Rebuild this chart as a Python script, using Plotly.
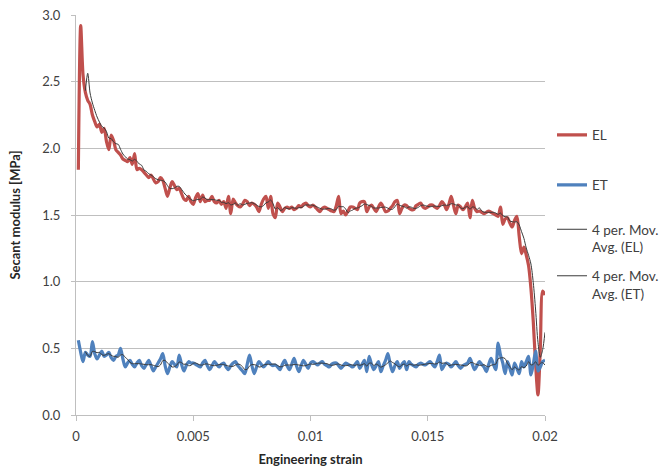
import plotly.graph_objects as go
import pandas as pd

# Engineering strain grid (0.0001 .. 0.02)
strain = [round(0.0001 * i, 4) for i in range(1, 201)]

EL = [
    1.84, 2.92, 2.55, 2.42, 2.36, 2.33, 2.25, 2.20, 2.16, 2.18,
    2.12, 2.15, 2.05, 1.99, 2.10, 2.06, 1.99, 1.97, 1.95, 1.92,
    1.91, 1.90, 1.93, 1.88, 1.96, 1.84, 1.85, 1.84, 1.82, 1.80,
    1.78, 1.80, 1.77, 1.74, 1.75, 1.78, 1.76, 1.70, 1.64, 1.70,
    1.75, 1.72, 1.69, 1.70, 1.66, 1.62, 1.61, 1.64, 1.60, 1.58,
    1.63, 1.66, 1.60, 1.65, 1.60, 1.61, 1.61, 1.64, 1.60, 1.59,
    1.61, 1.58, 1.60, 1.55, 1.64, 1.51, 1.62, 1.59, 1.57, 1.56,
    1.58, 1.61, 1.60, 1.57, 1.59, 1.58, 1.56, 1.525, 1.58, 1.62,
    1.64, 1.55, 1.64, 1.51, 1.48, 1.59, 1.56, 1.525, 1.55, 1.56,
    1.55, 1.56, 1.54, 1.55, 1.57, 1.56, 1.58, 1.59, 1.57, 1.56,
    1.575, 1.56, 1.54, 1.525, 1.55, 1.56, 1.55, 1.54, 1.53, 1.525,
    1.57, 1.64, 1.51, 1.53, 1.50, 1.53, 1.56, 1.56, 1.55, 1.54,
    1.59, 1.60, 1.60, 1.525, 1.56, 1.575, 1.55, 1.525, 1.56, 1.59,
    1.56, 1.525, 1.53, 1.55, 1.57, 1.60, 1.61, 1.51, 1.55, 1.575,
    1.57, 1.55, 1.54, 1.54, 1.57, 1.58, 1.59, 1.56, 1.55, 1.56,
    1.575, 1.575, 1.56, 1.55, 1.57, 1.60, 1.58, 1.54, 1.58, 1.64,
    1.57, 1.51, 1.575, 1.56, 1.54, 1.56, 1.59, 1.48, 1.61, 1.55,
    1.525, 1.53, 1.52, 1.51, 1.52, 1.53, 1.52, 1.51, 1.50, 1.49,
    1.56, 1.43, 1.47, 1.48, 1.44, 1.41, 1.46, 1.49, 1.34, 1.21,
    1.26, 1.20, 1.12, 0.95, 0.70, 0.38, 0.15, 0.50, 0.93, 0.90,
]

ET = [
    0.56, 0.47, 0.40, 0.47, 0.45, 0.44, 0.55, 0.46, 0.42, 0.45,
    0.48, 0.44, 0.45, 0.47, 0.43, 0.41, 0.44, 0.45, 0.50, 0.42,
    0.36, 0.39, 0.41, 0.38, 0.36, 0.39, 0.41, 0.37, 0.35, 0.38,
    0.41, 0.37, 0.33, 0.36, 0.39, 0.42, 0.46, 0.37, 0.31, 0.36,
    0.40, 0.38, 0.36, 0.45, 0.38, 0.33, 0.37, 0.40, 0.39, 0.39,
    0.38, 0.37, 0.36, 0.39, 0.41, 0.37, 0.34, 0.37, 0.40, 0.38,
    0.36, 0.38, 0.39, 0.36, 0.34, 0.37, 0.39, 0.40, 0.37, 0.35,
    0.33, 0.31, 0.38, 0.45, 0.37, 0.31, 0.36, 0.40, 0.38, 0.36,
    0.38, 0.40, 0.38, 0.37, 0.375, 0.36, 0.34, 0.38, 0.41, 0.37,
    0.34, 0.38, 0.425, 0.37, 0.325, 0.37, 0.41, 0.38, 0.35, 0.39,
    0.40, 0.39, 0.375, 0.39, 0.40, 0.38, 0.37, 0.36, 0.38, 0.39,
    0.39, 0.37, 0.35, 0.37, 0.39, 0.38, 0.37, 0.36, 0.38, 0.40,
    0.35, 0.38, 0.41, 0.325, 0.44, 0.38, 0.34, 0.37, 0.40, 0.325,
    0.37, 0.41, 0.46, 0.38, 0.325, 0.37, 0.40, 0.35, 0.38, 0.40,
    0.34, 0.40, 0.38, 0.37, 0.36, 0.38, 0.39, 0.38, 0.375, 0.39,
    0.40, 0.38, 0.36, 0.40, 0.45, 0.34, 0.37, 0.39, 0.38, 0.36,
    0.38, 0.40, 0.37, 0.35, 0.37, 0.38, 0.39, 0.425, 0.38, 0.34,
    0.37, 0.40, 0.38, 0.36, 0.325, 0.38, 0.425, 0.38, 0.34, 0.54,
    0.45, 0.39, 0.31, 0.40, 0.35, 0.30, 0.39, 0.35, 0.31, 0.40,
    0.36, 0.40, 0.44, 0.30, 0.38, 0.48, 0.33, 0.36, 0.40, 0.41,
]

x_tickvals = [0, 0.005, 0.01, 0.015, 0.02]
x_ticktext = ["0", "0.005", "0.01", "0.015", "0.02"]
y_tickvals = [0, 0.5, 1.0, 1.5, 2.0, 2.5, 3.0]
y_ticktext = ["0.0", "0.5", "1.0", "1.5", "2.0", "2.5", "3.0"]

df = pd.DataFrame({"x": strain, "EL": EL, "ET": ET})
df["EL_ma"] = df["EL"].rolling(4).mean()
df["ET_ma"] = df["ET"].rolling(4).mean()
ma = df.dropna()

FONT = "Lato, Carlito, Calibri, sans-serif"
RED = "#c0504d"
BLUE = "#4f81bd"
DARK = "#3a3a3a"
TXT = "#404040"

fig = go.Figure()
fig.add_trace(go.Scatter(x=df["x"], y=df["EL"], mode="lines", name="EL",
                         line=dict(color=RED, width=3.2, shape="spline", smoothing=0.8),
                         legend="legend"))
fig.add_trace(go.Scatter(x=df["x"], y=df["ET"], mode="lines", name="ET",
                         line=dict(color=BLUE, width=3.2, shape="spline", smoothing=0.8),
                         legend="legend2"))
fig.add_trace(go.Scatter(x=ma["x"], y=ma["EL_ma"], mode="lines",
                         name="4 per. Mov.<br>Avg. (EL)",
                         line=dict(color=DARK, width=1, shape="spline", smoothing=0.8),
                         legend="legend3"))
fig.add_trace(go.Scatter(x=ma["x"], y=ma["ET_ma"], mode="lines",
                         name="4 per. Mov.<br>Avg. (ET)",
                         line=dict(color=DARK, width=1, shape="spline", smoothing=0.8),
                         legend="legend4"))

W, H = 669, 470

def leg(py):
    return dict(xref="container", yref="container",
                x=552 / W, y=1 - py / H, xanchor="left", yanchor="middle", valign="top",
                font=dict(size=13.5, color=TXT, family=FONT),
                bgcolor="rgba(0,0,0,0)", borderwidth=0)

fig.update_layout(
    width=W, height=H,
    margin=dict(l=76, r=124, t=15, b=55, autoexpand=False),
    paper_bgcolor="white", plot_bgcolor="white",
    font=dict(family=FONT, size=13, color=TXT),
    legend=leg(135),
    legend2=leg(185),
    legend3=leg(238.5),
    legend4=leg(285),
    showlegend=True,
)
fig.update_xaxes(
    range=[0, 0.02], tickvals=x_tickvals, ticktext=x_ticktext,
    showgrid=False, zeroline=False, automargin=False,
    showline=True, linecolor="#bfbfbf", linewidth=1,
    ticks="outside", ticklen=5, tickcolor="#bfbfbf",
    ticklabelstandoff=4,
    tickfont=dict(size=13, color=TXT),
    title=dict(text="<b>Engineering strain</b>", font=dict(size=13, color="#262626"), standoff=12),
)
fig.update_yaxes(
    range=[0, 3.0], tickvals=y_tickvals, ticktext=y_ticktext,
    showgrid=True, gridcolor="#bfbfbf", gridwidth=1, zeroline=False, automargin=False,
    showline=True, linecolor="#bfbfbf", linewidth=1,
    ticks="outside", ticklen=4, tickcolor="#bfbfbf",
    ticklabelstandoff=8,
    tickfont=dict(size=13, color=TXT),
    title=dict(text="<b>Secant modulus [MPa]</b>", font=dict(size=13, color="#262626"), standoff=18),
)

fig.write_html("out.html")
